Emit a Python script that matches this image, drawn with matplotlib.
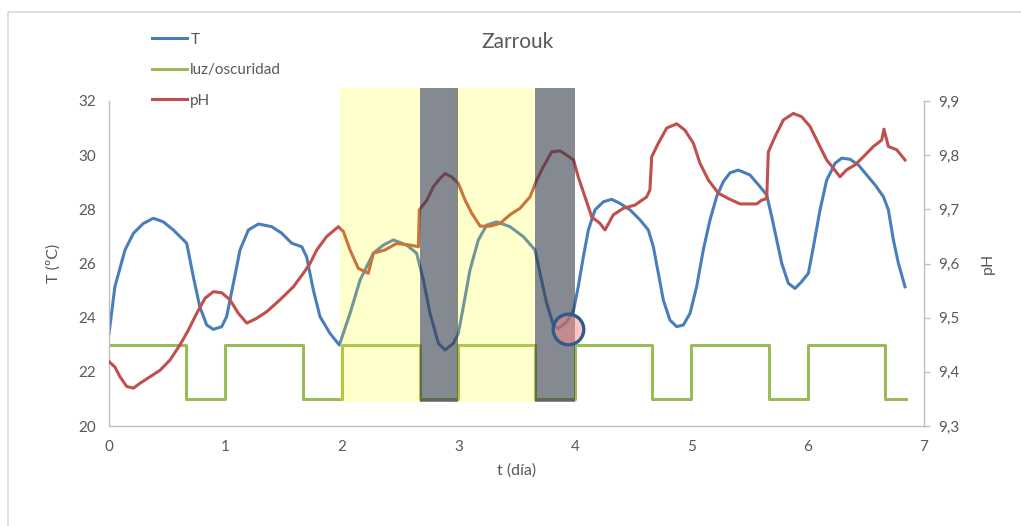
import numpy as np
import matplotlib
matplotlib.use("Agg")
import matplotlib.pyplot as plt
from matplotlib.patches import Rectangle
from matplotlib.lines import Line2D

plt.rcParams['font.family'] = ['Lato', 'DejaVu Sans']

# temperature (ºC) vs time (days)
t_T = [0, 0.05, 0.137, 0.21, 0.295, 0.38, 0.466, 0.552, 0.667, 0.724,
       0.78, 0.839, 0.896, 0.968, 1.01, 1.068, 1.125, 1.197, 1.283, 1.397,
       1.483, 1.569, 1.655, 1.697, 1.755, 1.812, 1.898, 1.978, 2.07, 2.156,
       2.27, 2.356, 2.442, 2.557, 2.642, 2.7, 2.757, 2.829, 2.886, 2.957,
       3.0, 3.043, 3.1, 3.172, 3.244, 3.33, 3.444, 3.559, 3.659, 3.702,
       3.759, 3.816, 3.86, 3.93, 3.99, 4.03, 4.074, 4.117, 4.174, 4.246,
       4.317, 4.389, 4.475, 4.561, 4.632, 4.675, 4.718, 4.761, 4.818, 4.876,
       4.933, 4.99, 5.047, 5.104, 5.162, 5.219, 5.276, 5.334, 5.405, 5.505,
       5.591, 5.649, 5.692, 5.735, 5.778, 5.835, 5.892, 5.949, 6.007, 6.05,
       6.107, 6.164, 6.236, 6.293, 6.364, 6.436, 6.508, 6.58, 6.651, 6.694,
       6.737, 6.78, 6.837]
T = [23.42, 25.14, 26.5, 27.12, 27.48, 27.67, 27.54, 27.24, 26.75, 25.51,
     24.4, 23.73, 23.57, 23.67, 24.04, 25.27, 26.5, 27.24, 27.46, 27.36,
     27.12, 26.75, 26.62, 26.25, 25.02, 24.04, 23.42, 22.99, 24.16, 25.39,
     26.38, 26.68, 26.87, 26.68, 26.38, 25.39, 24.16, 23.05, 22.81, 23.05,
     23.42, 24.4, 25.76, 26.87, 27.42, 27.54, 27.36, 26.99, 26.5, 25.64,
     24.53, 23.73, 23.6, 23.85, 24.28, 25.14, 26.25, 27.24, 27.98, 28.28,
     28.37, 28.22, 27.98, 27.61, 27.24, 26.62, 25.64, 24.65, 23.91, 23.67,
     23.73, 24.16, 25.14, 26.5, 27.61, 28.47, 29.02, 29.35, 29.45, 29.27,
     28.84, 28.53, 27.73, 26.87, 26.01, 25.27, 25.08, 25.33, 25.64, 26.62,
     27.98, 29.08, 29.7, 29.89, 29.85, 29.64, 29.27, 28.9, 28.47, 27.98,
     26.87, 26.01, 25.14]

# pH vs time (days)
t_pH = [0, 0.05, 0.094, 0.152, 0.209, 0.266, 0.352, 0.438, 0.524, 0.61,
        0.681, 0.753, 0.825, 0.896, 0.968, 1.039, 1.111, 1.183, 1.269, 1.354,
        1.468, 1.583, 1.669, 1.726, 1.784, 1.87, 1.97, 2.013, 2.07, 2.141,
        2.227, 2.27, 2.37, 2.47, 2.585, 2.657, 2.665, 2.73, 2.786, 2.843,
        2.886, 2.943, 3.0, 3.058, 3.115, 3.187, 3.272, 3.358, 3.444, 3.53,
        3.616, 3.673, 3.731, 3.802, 3.873, 3.931, 3.99, 4.03, 4.088, 4.146,
        4.217, 4.26, 4.332, 4.418, 4.518, 4.618, 4.646, 4.661, 4.718, 4.79,
        4.876, 4.947, 5.019, 5.076, 5.148, 5.233, 5.319, 5.42, 5.563, 5.606,
        5.649, 5.663, 5.72, 5.792, 5.878, 5.949, 6.021, 6.092, 6.164, 6.221,
        6.278, 6.336, 6.407, 6.493, 6.565, 6.637, 6.656, 6.694, 6.766, 6.837]
pH = [9.419, 9.409, 9.391, 9.373, 9.370, 9.379, 9.391, 9.403, 9.422, 9.450,
      9.477, 9.508, 9.536, 9.548, 9.546, 9.533, 9.508, 9.490, 9.499, 9.511,
      9.533, 9.557, 9.582, 9.600, 9.625, 9.650, 9.668, 9.659, 9.625, 9.591,
      9.582, 9.619, 9.625, 9.637, 9.634, 9.631, 9.699, 9.717, 9.742, 9.757,
      9.766, 9.760, 9.748, 9.717, 9.693, 9.669, 9.669, 9.674, 9.690, 9.702,
      9.723, 9.754, 9.779, 9.806, 9.808, 9.800, 9.791, 9.760, 9.723, 9.686,
      9.674, 9.662, 9.690, 9.702, 9.708, 9.723, 9.736, 9.797, 9.822, 9.850,
      9.858, 9.846, 9.822, 9.785, 9.754, 9.730, 9.720, 9.710, 9.710, 9.717,
      9.720, 9.806, 9.834, 9.865, 9.877, 9.871, 9.853, 9.822, 9.791, 9.776,
      9.760, 9.773, 9.782, 9.800, 9.816, 9.828, 9.848, 9.816, 9.810, 9.791]

# light / dark signal (drawn on the T scale, 23 = light, 21 = dark)
t_luz = [0, 0.66, 1.0, 1.663, 2.0, 2.67, 3.0, 3.66, 4.0, 4.667, 5.0, 5.669, 6.0, 6.665, 6.843]
luz = [23, 21, 23, 21, 23, 21, 23, 21, 23, 21, 23, 21, 23, 21, 21]

# highlighted periods: light (yellow) and dark (grey)
light_spans = [(1.98, 2.67), (2.97, 3.66)]
dark_spans = [(2.67, 3.0), (3.66, 4.0)]
span_bottom, span_top = 20.9, 32.47

# marked point on the T curve
mark_t, mark_T = 3.945, 23.6

T_ticks = [20, 22, 24, 26, 28, 30, 32]
pH_ticks = [9.3, 9.4, 9.5, 9.6, 9.7, 9.8, 9.9]
t_ticks = [0, 1, 2, 3, 4, 5, 6, 7]

c_T = '#4a7ebb'
c_pH = '#c0504d'
c_luz = '#9bbb59'
grey_txt = '#595959'
axis_col = '#bfbfbf'

fig = plt.figure(figsize=(10.21, 5.26), dpi=100)
ax = fig.add_axes([0.1068, 0.190, 0.7982, 0.618])
ax2 = ax.twinx()

# outer chart frame
fig.add_artist(Rectangle((0.0078, -0.5), 2, 0.977 + 0.5, transform=fig.transFigure,
                         fill=False, ec='#d9d9d9', lw=1.2))

ax.plot(t_T, T, color=c_T, lw=2.2, zorder=2)
ax.plot(t_luz, luz, color=c_luz, lw=2.2, drawstyle='steps-post', zorder=2)
ax2.plot(t_pH, pH, color=c_pH, lw=2.2, zorder=2)

# shading goes over all lines, so it lives on ax2 but uses ax data coords
for a, b in light_spans:
    ax2.add_patch(Rectangle((a, span_bottom), b - a, span_top - span_bottom,
                            transform=ax.transData, color='#ffff00', alpha=0.2,
                            lw=0, zorder=3, clip_on=False))
for a, b in dark_spans:
    ax2.add_patch(Rectangle((a, span_bottom), b - a, span_top - span_bottom,
                            transform=ax.transData, color='#343c4a', alpha=0.6,
                            lw=0, zorder=3, clip_on=False))

ax2.plot([mark_t], [mark_T], 'o', transform=ax.transData, ms=22,
         mfc=(1.0, 0.55, 0.55, 0.5), mec='#2e5a8c', mew=2.4, zorder=4, clip_on=False)

ax.set_xlim(0, 7)
ax.set_ylim(20, 32)
ax2.set_ylim(9.3, 9.9)
ax.set_xticks(t_ticks)
ax.set_yticks(T_ticks)
ax2.set_yticks(pH_ticks)
ax2.set_yticklabels([f"{v:.1f}".replace('.', ',') for v in pH_ticks])

for a in (ax, ax2):
    for s in a.spines.values():
        s.set_color(axis_col)
        s.set_linewidth(1.0)
    a.spines['top'].set_visible(False)
ax.spines['right'].set_visible(False)
ax2.spines['left'].set_visible(False)
ax2.spines['bottom'].set_visible(False)

ax.tick_params(axis='x', length=0, pad=10, labelsize=11, labelcolor=grey_txt)
ax.tick_params(axis='y', length=0, pad=9, labelsize=11, labelcolor=grey_txt)
ax2.tick_params(axis='y', length=4.5, width=1, color=axis_col, pad=6,
                labelsize=11, labelcolor=grey_txt)

ax.set_xlabel('t (día)', fontsize=11.5, color=grey_txt, labelpad=7)
ax.set_ylabel('T (ºC)', fontsize=11.5, color=grey_txt, labelpad=13)
ax2.set_ylabel('pH', fontsize=11.5, color=grey_txt, rotation=90, labelpad=15)

fig.text(0.507, 0.92, 'Zarrouk', ha='center', va='center', fontsize=15, color=grey_txt)

handles = [Line2D([], [], color=c_T, lw=2.2),
           Line2D([], [], color=c_luz, lw=2.2),
           Line2D([], [], color=c_pH, lw=2.2)]
fig.legend(handles, ['T', 'luz/oscuridad', 'pH'], loc='upper left',
           bbox_to_anchor=(0.149, 0.938), frameon=False, fontsize=11,
           handlelength=2.3, handletextpad=0.2, labelspacing=1.08,
           borderpad=0, borderaxespad=0, labelcolor=grey_txt)

fig.savefig('out.png', dpi=100)
